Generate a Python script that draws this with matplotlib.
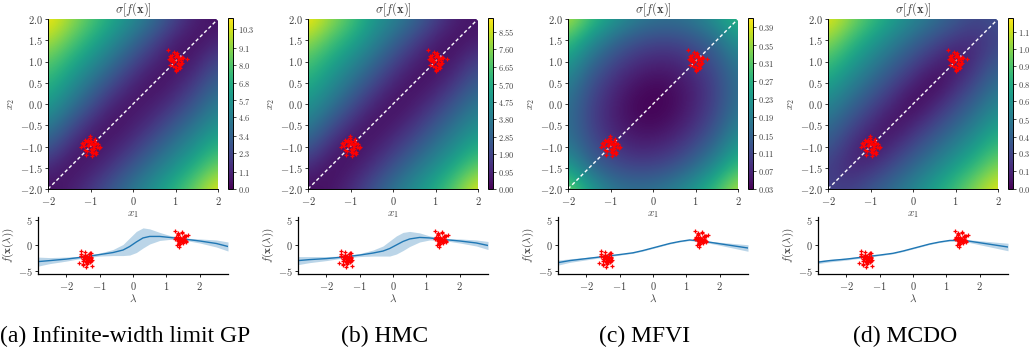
import numpy as np
import matplotlib
matplotlib.use('Agg')
import matplotlib.pyplot as plt
from matplotlib.ticker import FuncFormatter

plt.rcParams['mathtext.fontset'] = 'cm'
plt.rcParams['font.family'] = 'serif'
plt.rcParams['font.serif'] = ['Liberation Serif', 'DejaVu Serif']

W, H = 1029, 350

# sigma[f(x)] read on a 9x9 grid, x1/x2 = -2..2 step 0.5 (rows: x2 from -2 up)
# values as fraction of the colour range
sig_a = [[0.03, 0.08, 0.16, 0.28, 0.40, 0.52, 0.65, 0.80, 0.97],
         [0.12, 0.03, 0.08, 0.16, 0.28, 0.40, 0.52, 0.65, 0.80],
         [0.28, 0.12, 0.03, 0.08, 0.16, 0.28, 0.40, 0.52, 0.65],
         [0.42, 0.26, 0.11, 0.03, 0.08, 0.16, 0.28, 0.40, 0.52],
         [0.55, 0.40, 0.25, 0.10, 0.04, 0.08, 0.16, 0.28, 0.42],
         [0.65, 0.52, 0.37, 0.23, 0.10, 0.03, 0.08, 0.18, 0.32],
         [0.75, 0.63, 0.50, 0.36, 0.22, 0.10, 0.03, 0.09, 0.22],
         [0.88, 0.75, 0.62, 0.49, 0.35, 0.21, 0.08, 0.03, 0.10],
         [1.00, 0.86, 0.73, 0.60, 0.48, 0.35, 0.20, 0.08, 0.04]]
sig_b = [[0.03, 0.05, 0.12, 0.25, 0.38, 0.50, 0.62, 0.78, 0.97],
         [0.12, 0.03, 0.06, 0.14, 0.26, 0.38, 0.50, 0.63, 0.78],
         [0.28, 0.12, 0.03, 0.07, 0.15, 0.26, 0.38, 0.50, 0.62],
         [0.42, 0.26, 0.12, 0.03, 0.07, 0.15, 0.27, 0.39, 0.50],
         [0.52, 0.40, 0.25, 0.11, 0.03, 0.07, 0.16, 0.28, 0.40],
         [0.62, 0.50, 0.37, 0.23, 0.10, 0.03, 0.07, 0.17, 0.30],
         [0.72, 0.60, 0.48, 0.35, 0.21, 0.09, 0.03, 0.08, 0.20],
         [0.85, 0.72, 0.60, 0.47, 0.33, 0.20, 0.08, 0.03, 0.08],
         [1.00, 0.85, 0.72, 0.55, 0.45, 0.33, 0.20, 0.08, 0.05]]
sig_c = [[0.80, 0.58, 0.41, 0.37, 0.38, 0.44, 0.55, 0.70, 0.90],
         [0.58, 0.35, 0.26, 0.21, 0.21, 0.26, 0.36, 0.51, 0.70],
         [0.41, 0.26, 0.16, 0.10, 0.10, 0.14, 0.23, 0.36, 0.55],
         [0.37, 0.21, 0.10, 0.04, 0.02, 0.06, 0.14, 0.26, 0.44],
         [0.38, 0.21, 0.10, 0.02, 0.00, 0.02, 0.10, 0.21, 0.38],
         [0.44, 0.26, 0.14, 0.06, 0.02, 0.04, 0.10, 0.21, 0.37],
         [0.55, 0.36, 0.23, 0.14, 0.10, 0.10, 0.16, 0.26, 0.41],
         [0.70, 0.51, 0.36, 0.26, 0.21, 0.21, 0.26, 0.35, 0.52],
         [0.90, 0.70, 0.55, 0.44, 0.38, 0.37, 0.41, 0.52, 0.66]]
sig_d = [[0.20, 0.19, 0.27, 0.36, 0.46, 0.58, 0.70, 0.84, 0.97],
         [0.19, 0.10, 0.14, 0.23, 0.34, 0.45, 0.57, 0.69, 0.83],
         [0.27, 0.14, 0.04, 0.12, 0.22, 0.33, 0.44, 0.56, 0.69],
         [0.36, 0.23, 0.12, 0.02, 0.11, 0.21, 0.32, 0.44, 0.57],
         [0.46, 0.34, 0.22, 0.11, 0.00, 0.10, 0.21, 0.33, 0.46],
         [0.58, 0.45, 0.33, 0.21, 0.10, 0.00, 0.11, 0.23, 0.37],
         [0.70, 0.57, 0.44, 0.32, 0.21, 0.11, 0.04, 0.15, 0.28],
         [0.84, 0.69, 0.56, 0.44, 0.33, 0.23, 0.15, 0.12, 0.21],
         [0.97, 0.83, 0.69, 0.57, 0.46, 0.37, 0.28, 0.21, 0.25]]

# colour ranges
vmins = [0.0, 0.0, 0.03, 0.04]
vmaxs = [11.0, 9.3, 0.41, 1.29]

cbar_labels = [
    ['0.0', '1.1', '2.3', '3.4', '4.6', '5.7', '6.8', '8.0', '9.1', '10.3'],
    ['0.00', '0.95', '1.90', '2.85', '3.80', '4.75', '5.70', '6.65', '7.60', '8.55'],
    ['0.03', '0.07', '0.11', '0.15', '0.19', '0.23', '0.27', '0.31', '0.35', '0.39'],
    ['0.04', '0.17', '0.30', '0.42', '0.55', '0.68', '0.81', '0.94', '1.06', '1.19'],
]

# training inputs, two clusters around (-1,-1) and (1,1)
off1_x = [-0.05, 0.08, -0.12, 0.02, 0.15, -0.18, 0.05, -0.02, 0.11, -0.09, 0.19, -0.14, 0.03, -0.06,
          0.09, 0.13, -0.20, 0.00, 0.07, -0.10, 0.22, -0.03, 0.12, -0.16, 0.04, -0.08, 0.06, 0.10,
          -0.12, 0.01, 0.17, -0.04, 0.08, -0.22, 0.14, -0.01, 0.03, -0.07, 0.10, 0.02]
off1_y = [0.04, -0.07, 0.10, 0.13, -0.02, 0.06, -0.15, 0.20, 0.05, -0.11, -0.04, 0.16, -0.09, 0.01,
          0.12, -0.18, 0.08, -0.05, 0.03, -0.20, -0.01, 0.07, -0.12, 0.02, 0.09, 0.14, -0.06, 0.18,
          -0.08, -0.14, 0.05, 0.11, -0.02, 0.00, 0.08, 0.25, -0.22, 0.15, -0.16, 0.06]
off2_x = [0.06, -0.11, 0.03, 0.14, -0.04, 0.09, -0.15, 0.01, 0.18, -0.07, 0.11, -0.02, -0.13, 0.07,
          0.02, -0.09, 0.26, 0.05, -0.05, 0.12, -0.17, 0.08, -0.01, 0.15, -0.10, 0.04, -0.06, 0.10,
          -0.12, 0.00, 0.13, -0.03, 0.07, -0.08, 0.16, -0.14, 0.09, 0.02, -0.04, 0.05]
off2_y = [-0.03, 0.09, 0.14, -0.06, 0.02, -0.12, 0.05, 0.17, 0.08, -0.01, -0.16, 0.11, -0.08, 0.03,
          -0.20, 0.06, 0.07, 0.12, -0.11, 0.01, 0.27, -0.05, -0.14, 0.10, 0.04, 0.19, -0.02, -0.09,
          0.13, -0.22, 0.06, 0.00, -0.06, 0.15, -0.04, 0.03, 0.09, -0.13, 0.23, -0.18]

# observed targets along lambda
f_left = [-2.4, -3.1, -1.8, -2.9, -2.2, -3.6, -2.6, -1.5, -3.3, -2.0, -2.8, -4.3, -2.3, -1.2, -3.0,
          -2.5, -3.9, -1.9, -2.7, -3.4, -1.4, -2.1, -3.2, -2.6, -1.7, -3.7, -2.4, -2.9, -1.0, -3.1,
          -2.2, -2.8, -3.5, -1.6, -2.5, -4.0, -2.0, -3.0, -2.3, -2.7]
f_right = [1.3, 0.6, 1.9, 0.9, 1.5, 0.2, 2.4, 1.1, 0.7, 1.7, -0.3, 1.2, 2.9, 0.8, 1.4, 0.4, 2.1,
           1.0, 1.6, 0.5, 2.7, 1.3, 0.1, 1.8, 1.1, 0.9, 2.2, 1.5, 0.3, 1.2, 1.9, 0.6, 1.4, 2.5,
           1.0, 0.8, 1.6, 2.0, 1.1, 1.3]

# predictive mean / std along the diagonal slice
lam = [-2.85, -2.5, -2.0, -1.5, -1.0, -0.6, -0.3, -0.1, 0.1, 0.3, 0.5, 0.8, 1.1, 1.5, 2.0, 2.5, 2.85]
mean_a = [-3.2, -3.0, -2.7, -2.3, -1.8, -1.4, -0.9, -0.2, 0.7, 1.5, 1.8, 1.8, 1.6, 1.3, 0.9, 0.4, -0.2]
std_a = [0.9, 0.6, 0.4, 0.2, 0.3, 0.6, 1.1, 1.7, 2.1, 2.0, 1.5, 0.8, 0.4, 0.2, 0.4, 0.7, 0.9]
mean_b = [-3.0, -2.8, -2.6, -2.3, -1.9, -1.5, -1.1, -0.6, 0.1, 0.8, 1.3, 1.6, 1.5, 1.2, 0.9, 0.5, 0.0]
std_b = [0.8, 0.6, 0.4, 0.2, 0.3, 0.6, 1.0, 1.5, 1.8, 1.8, 1.5, 0.9, 0.4, 0.2, 0.4, 0.6, 0.8]
mean_c = [-3.4, -3.0, -2.6, -2.2, -1.8, -1.45, -1.0, -0.65, -0.3, 0.05, 0.4, 0.8, 1.1, 0.85, 0.35, -0.15, -0.5]
std_c = [0.5, 0.35, 0.25, 0.15, 0.12, 0.1, 0.1, 0.1, 0.1, 0.1, 0.1, 0.1, 0.12, 0.15, 0.3, 0.5, 0.65]
mean_d = [-3.3, -3.0, -2.7, -2.3, -1.9, -1.55, -1.1, -0.75, -0.4, -0.05, 0.3, 0.7, 1.0, 1.05, 0.55, 0.05, -0.3]
std_d = [0.3, 0.25, 0.2, 0.15, 0.12, 0.1, 0.1, 0.1, 0.1, 0.1, 0.1, 0.1, 0.12, 0.2, 0.4, 0.6, 0.75]

captions = ['(a) Infinite-width limit GP', '(b) HMC', '(c) MFVI', '(d) MCDO']

sigmas = [sig_a, sig_b, sig_c, sig_d]
means = [mean_a, mean_b, mean_c, mean_d]
stds = [std_a, std_b, std_c, std_d]

x1 = np.concatenate([-1 + np.array(off1_x), 1 + np.array(off2_x)])
x2 = np.concatenate([-1 + np.array(off1_y), 1 + np.array(off2_y)])
lam_pts = (x1 + x2) / np.sqrt(2)
f_pts = np.array(f_left + f_right)


def box(x0, y0, x1_, y1_):
    return [x0 / W, 1 - y1_ / H, (x1_ - x0) / W, (y1_ - y0) / H]


def math_fmt(fmt):
    return FuncFormatter(lambda v, p: '$' + (fmt % v) + '$')


fig = plt.figure(figsize=(W / 100, H / 100), dpi=100)
tc = '0.25'

for k in range(4):
    off = 260 * k
    frac = np.array(sigmas[k])
    z = vmins[k] + frac * (vmaxs[k] - vmins[k])

    ax = fig.add_axes(box(48 + off, 19, 218 + off, 189))
    im = ax.imshow(z, extent=(-2.25, 2.25, -2.25, 2.25), origin='lower', cmap='viridis',
                   interpolation='bicubic', vmin=vmins[k], vmax=vmaxs[k], aspect='auto')
    ax.plot([-2, 2], [-2, 2], color='white', ls=(0, (2.5, 1.8)), lw=1.0)
    ax.plot(x1, x2, '+', color='red', ms=3.2, mew=0.9)
    ax.set_xlim(-2, 2)
    ax.set_ylim(-2, 2)
    ax.set_xticks([-2, -1, 0, 1, 2])
    ax.set_yticks(np.arange(-2, 2.01, 0.5))
    ax.xaxis.set_major_formatter(math_fmt('%d'))
    ax.yaxis.set_major_formatter(math_fmt('%.1f'))
    ax.tick_params(labelsize=7.5, length=2.5, width=0.6, pad=1.5, colors='0.1', labelcolor=tc)
    for s in ['top', 'right']:
        ax.spines[s].set_visible(False)
    for s in ['left', 'bottom']:
        ax.spines[s].set_linewidth(0.7)
    ax.set_xlabel('$x_1$', fontsize=8, color=tc, labelpad=2)
    ax.set_ylabel('$x_2$', fontsize=8, color=tc, labelpad=2)
    ax.set_title(r'$\sigma[f(\mathbf{x})]$', fontsize=9, color=tc, pad=2)

    cax = fig.add_axes(box(228 + off, 18, 233 + off, 189))
    cb = fig.colorbar(im, cax=cax)
    ticks = [float(t) for t in cbar_labels[k]]
    cb.set_ticks(ticks)
    cb.set_ticklabels(['$' + t + '$' for t in cbar_labels[k]])
    cax.tick_params(labelsize=6, length=2, width=0.5, pad=1.5, labelcolor=tc)
    cb.outline.set_linewidth(0.7)

    bx = fig.add_axes(box(38 + off, 217, 228 + off, 274))
    m = np.array(means[k])
    sd = np.array(stds[k])
    bx.fill_between(lam, m - sd, m + sd, color='#1f77b4', alpha=0.3, lw=0)
    bx.plot(lam, m, color='#1f77b4', lw=1.0)
    bx.plot(lam_pts, f_pts, '+', color='red', ms=3.2, mew=0.9)
    bx.set_xlim(-2.85, 2.85)
    bx.set_ylim(-5.66, 5.66)
    bx.set_xticks([-2, -1, 0, 1, 2])
    bx.set_yticks([-5, 0, 5])
    bx.xaxis.set_major_formatter(math_fmt('%d'))
    bx.yaxis.set_major_formatter(math_fmt('%d'))
    bx.tick_params(labelsize=7.5, length=2.5, width=0.6, pad=1.5, labelcolor=tc)
    for s in ['top', 'right']:
        bx.spines[s].set_visible(False)
    for s in ['left', 'bottom']:
        bx.spines[s].set_linewidth(0.9)
    bx.set_xlabel(r'$\lambda$', fontsize=8, color=tc, labelpad=1)
    bx.set_ylabel(r'$f(\mathbf{x}(\lambda))$', fontsize=8, color=tc, labelpad=1)

    fig.text((125 + off) / W, 1 - 336 / H, captions[k], fontsize=17, ha='center', va='center',
             family='Liberation Serif')

fig.savefig('out.png', dpi=100)
